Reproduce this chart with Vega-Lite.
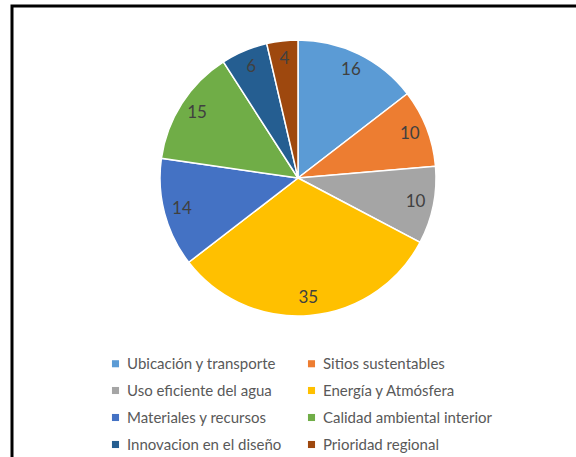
{
  "$schema": "https://vega.github.io/schema/vega-lite/v6.json",
  "width": 600,
  "height": 500,
  "autosize": {"type": "none"},
  "padding": {"left": 12, "top": 6, "right": 0, "bottom": 0},
  "background": "white",
  "config": {
    "view": {"stroke": null},
    "font": "Lato"
  },
  "layer": [
    {
      "data": {"values": [{"marco": 1}]},
      "mark": {"type": "rect", "fill": "transparent", "stroke": "black", "strokeWidth": 3},
      "encoding": {}
    },
    {
      "data": {"name": "puntos"},
      "encoding": {
        "theta": {"field": "valor", "type": "quantitative", "stack": true},
        "order": {"field": "orden", "type": "quantitative"}
      },
      "layer": [
        {
          "mark": {"type": "arc", "outerRadius": 138, "x": 286, "y": 172, "stroke": "white", "strokeWidth": 1.5},
          "encoding": {
            "color": {
              "field": "categoria",
              "type": "nominal",
              "sort": null,
              "scale": {
                "domain": ["Ubicación y transporte", "Sitios sustentables", "Uso eficiente del agua", "Energía y Atmósfera", "Materiales y recursos", "Calidad ambiental interior", "Innovacion en el diseño", "Prioridad regional"],
                "range": ["#5B9BD5", "#ED7D31", "#A5A5A5", "#FFC000", "#4472C4", "#70AD47", "#255E91", "#9E480E"]
              },
              "legend": {
                "title": null,
                "orient": "none",
                "legendX": 96,
                "legendY": 350,
                "columns": 2,
                "direction": "horizontal",
                "symbolType": "square",
                "symbolSize": 50,
                "symbolStrokeWidth": 0,
                "labelFontSize": 15,
                "labelColor": "#595959",
                "labelFont": "Lato",
                "columnPadding": 22,
                "rowPadding": 11,
                "labelLimit": 300
              }
            }
          }
        },
        {
          "mark": {"type": "text", "radius": 120, "x": 286, "y": 172, "fontSize": 17, "color": "#404040", "font": "Lato"},
          "encoding": {
            "text": {"field": "valor", "type": "quantitative"}
          }
        }
      ]
    }
  ],
  "datasets": {
    "puntos": [
      {"categoria": "Ubicación y transporte", "valor": 16, "orden": 1},
      {"categoria": "Sitios sustentables", "valor": 10, "orden": 2},
      {"categoria": "Uso eficiente del agua", "valor": 10, "orden": 3},
      {"categoria": "Energía y Atmósfera", "valor": 35, "orden": 4},
      {"categoria": "Materiales y recursos", "valor": 14, "orden": 5},
      {"categoria": "Calidad ambiental interior", "valor": 15, "orden": 6},
      {"categoria": "Innovacion en el diseño", "valor": 6, "orden": 7},
      {"categoria": "Prioridad regional", "valor": 4, "orden": 8}
    ]
  }
}
